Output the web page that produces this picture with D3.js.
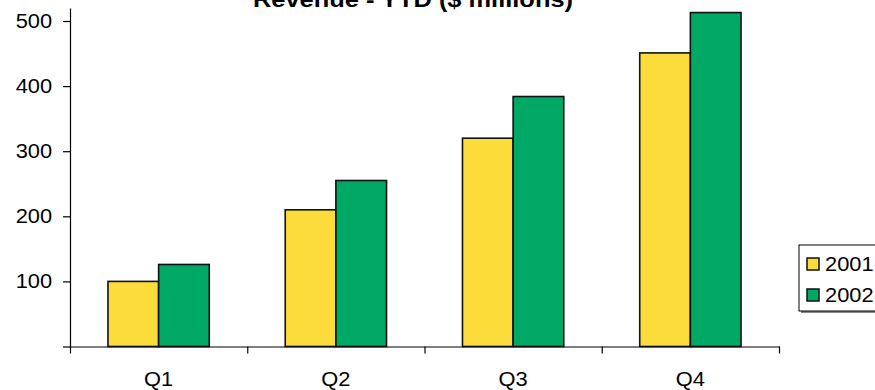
<!DOCTYPE html>
<html>
<head>
<meta charset="utf-8">
<script src="https://cdn.jsdelivr.net/npm/d3@7"></script>
<style>
  html, body { margin: 0; padding: 0; background: #fff; }
  svg { display: block; }
  text { font-family: Arial, "Liberation Sans", sans-serif; fill: #000; }
</style>
</head>
<body>
<svg id="chart" width="875" height="390"></svg>
<script>
// Revenue year-to-date, $ millions
const quarters = ["Q1", "Q2", "Q3", "Q4"];
const years = ["2001", "2002"];
const revenue2001 = [100, 210, 320, 451];
const revenue2002 = [126, 255, 384, 513];
const yTicks = [0, 100, 200, 300, 400, 500];
const titleText = "Revenue - YTD ($ millions)";

const colors = { "2001": "#FBDC3A", "2002": "#00A865" };
const seriesValues = { "2001": revenue2001, "2002": revenue2002 };
const rows = quarters.map((q, i) => ({ q, v: years.map(y => ({ year: y, value: seriesValues[y][i] })) }));

const svg = d3.select("#chart");
const plot = { left: 70, right: 779, top: 8, bottom: 346.5 };
const stretch = 1.12;   // labels are set slightly wide

const x = d3.scaleBand().domain(quarters).range([plot.left, plot.right]).paddingInner(0).paddingOuter(0);
// two touching bars per quarter, gap of 150% of a bar width split on both sides
const inner = d3.scaleBand().domain(years).range([0, x.bandwidth()]).paddingInner(0).paddingOuter(0.75);
const y = d3.scaleLinear().domain([0, 520]).range([plot.bottom, plot.top]);

// bars
const groups = svg.append("g").selectAll("g").data(rows).join("g")
  .attr("transform", d => `translate(${x(d.q)},0)`);
groups.selectAll("rect").data(d => d.v).join("rect")
  .attr("x", d => inner(d.year))
  .attr("y", d => y(d.value))
  .attr("width", inner.bandwidth())
  .attr("height", d => y(0) - y(d.value))
  .attr("fill", d => colors[d.year])
  .attr("stroke", "#111")
  .attr("stroke-width", 1.6);

// y axis
const yAxis = svg.append("g").attr("transform", `translate(${plot.left},0)`)
  .call(d3.axisLeft(y).tickValues(yTicks).tickSize(7).tickSizeOuter(0).tickPadding(9)
    .tickFormat(d => d === 0 ? "" : d));
yAxis.select(".domain").attr("stroke", "#000").attr("stroke-width", 1.2);
yAxis.selectAll(".tick line").attr("stroke", "#000").attr("stroke-width", 1.2);
yAxis.selectAll(".tick text").style("font-size", "19.5px").attr("fill", "#000")
  .attr("transform", `scale(${stretch},1)`);

// x axis: line with ticks at the category boundaries
const xEdge = d3.scaleLinear().domain([0, quarters.length]).range([plot.left, plot.right]);
const xAxis = svg.append("g").attr("transform", `translate(0,${plot.bottom})`)
  .call(d3.axisBottom(xEdge).tickValues(d3.range(quarters.length + 1)).tickSize(7).tickSizeOuter(0).tickFormat(""));
xAxis.select(".domain").attr("stroke", "#000").attr("stroke-width", 1.2);
xAxis.selectAll(".tick line").attr("stroke", "#000").attr("stroke-width", 1.2);

// category labels
const xLabels = svg.append("g").attr("transform", `translate(0,${plot.bottom})`)
  .call(d3.axisBottom(x).tickSize(0));
xLabels.select(".domain").remove();
xLabels.selectAll(".tick text")
  .attr("y", 39.5).attr("dy", null)
  .style("font-size", "19.5px").attr("fill", "#000")
  .attr("transform", `scale(${stretch},1)`);

// title
svg.append("text")
  .attr("x", 413).attr("y", 7)
  .attr("text-anchor", "middle")
  .style("font-size", "22px").attr("font-weight", "bold")
  .attr("textLength", 320).attr("lengthAdjust", "spacingAndGlyphs")
  .text(titleText);

// legend
const legend = svg.append("g").attr("transform", "translate(799,245)");
legend.append("rect").attr("x", 2).attr("y", 2).attr("width", 90).attr("height", 66).attr("fill", "#888");
legend.append("rect").attr("x", 0).attr("y", 0).attr("width", 90).attr("height", 66)
  .attr("fill", "#fff").attr("stroke", "#000").attr("stroke-width", 1);
const items = legend.selectAll("g.item").data(years).join("g").attr("class", "item")
  .attr("transform", (d, i) => `translate(8,${13 + i * 31})`);
items.append("rect").attr("width", 12).attr("height", 12)
  .attr("fill", d => colors[d]).attr("stroke", "#111").attr("stroke-width", 1.5);
items.append("text")
  .attr("transform", `translate(18,12.5) scale(${stretch},1)`)
  .style("font-size", "19.5px")
  .text(d => d);
</script>
</body>
</html>
